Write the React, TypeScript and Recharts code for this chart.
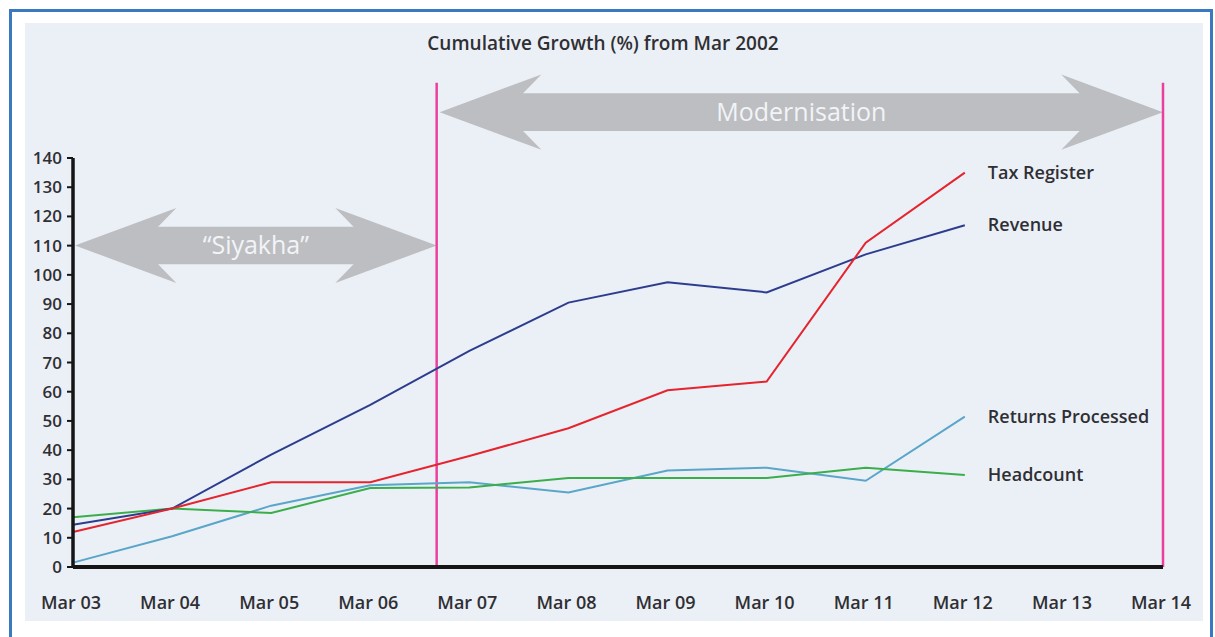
import React from 'react';
import { LineChart, Line, XAxis, YAxis, ReferenceLine, ReferenceArea, LabelList } from 'recharts';

const months = ['Mar 03', 'Mar 04', 'Mar 05', 'Mar 06', 'Mar 07', 'Mar 08', 'Mar 09', 'Mar 10', 'Mar 11', 'Mar 12', 'Mar 13', 'Mar 14'];
const taxRegister = [12, 20, 29, 29, 38, 47.5, 60.5, 63.5, 111, 135];
const revenue = [14.5, 20, 38.5, 55.5, 74, 90.5, 97.5, 94, 107, 117];
const returnsProcessed = [1.5, 10.5, 21, 28, 29, 25.5, 33, 34, 29.5, 51.5];
const headcount = [17, 20, 18.5, 27, 27.2, 30.5, 30.5, 30.5, 34, 31.5];
const yTicks = [0, 10, 20, 30, 40, 50, 60, 70, 80, 90, 100, 110, 120, 130, 140];

// phase markers (x in month index units, y in % units)
const phaseSplit = 3.67;
const phaseEnd = 11;
const siyakhaBand = [97.2, 122.9];
const modernBand = [142.8, 168.6];
const markerTop = 165.8;

const data = months.map((m, i) => ({
  idx: i,
  month: m,
  tax: taxRegister[i] ?? null,
  revenue: revenue[i] ?? null,
  returns: returnsProcessed[i] ?? null,
  headcount: headcount[i] ?? null,
}));

const FONT = '"Open Sans", "Noto Sans", sans-serif';
const TEXT = '#2f2f33';

function DoubleArrow(props: any) {
  const { x, y, width, height, text, fontSize } = props;
  const cy = y + height / 2;
  const head = height * 1.35;
  const notch = head * 0.82;
  const shaft = height / 4;
  const pts = [
    [x, cy],
    [x + head, y],
    [x + notch, cy - shaft],
    [x + width - notch, cy - shaft],
    [x + width - head, y],
    [x + width, cy],
    [x + width - head, y + height],
    [x + width - notch, cy + shaft],
    [x + notch, cy + shaft],
    [x + head, y + height],
  ];
  return (
    <g>
      <polygon points={pts.map((p) => p.join(',')).join(' ')} fill="#bdbec1" />
      <text
        x={x + width / 2}
        y={cy}
        dy="0.35em"
        textAnchor="middle"
        fill="#f2f4f7"
        fontFamily={FONT}
        fontSize={fontSize}
      >
        {text}
      </text>
    </g>
  );
}

function endLabel(name: string) {
  return (props: any) => {
    const { x, y, index } = props;
    if (index !== taxRegister.length - 1) return null;
    return (
      <text x={x + 23} y={y} dy="0.35em" fill={TEXT} fontFamily={FONT} fontSize={18} fontWeight={600}>
        {name}
      </text>
    );
  };
}

function MonthTick({ x, y, payload }: any) {
  return (
    <text x={x - 2} y={y} dy={42} textAnchor="middle" fill={TEXT} fontFamily={FONT} fontSize={18} fontWeight={600}>
      {months[payload.value]}
    </text>
  );
}

export default function App() {
  return (
    <div style={{ position: 'absolute', left: 0, top: 0, width: 1215, height: 637, background: '#fff', overflow: 'hidden' }}>
      <div
        style={{
          position: 'absolute',
          left: 9,
          top: 9,
          width: 1198,
          height: 700,
          border: '3px solid #3a78c2',
        }}
      />
      <div style={{ position: 'absolute', left: 25, top: 23, width: 1178, height: 598, background: '#ebf0f7' }}>
        <div
          style={{
            position: 'absolute',
            left: 378,
            top: 7,
            width: 400,
            textAlign: 'center',
            fontFamily: FONT,
            fontSize: 19,
            fontWeight: 600,
            color: TEXT,
            whiteSpace: 'nowrap',
          }}
        >
          Cumulative Growth (%) from Mar 2002
        </div>
        <LineChart width={1178} height={598} data={data} margin={{ top: 135, right: 40, bottom: 14, left: 8 }}>
          <XAxis
            type="number"
            dataKey="idx"
            domain={[0, 11]}
            ticks={months.map((_, i) => i)}
            interval={0}
            tickLine={false}
            tickSize={0}
            tickMargin={0}
            height={40}
            axisLine={{ stroke: '#151515', strokeWidth: 4 }}
            tick={<MonthTick />}
          />
          <YAxis
            domain={[0, 140]}
            ticks={yTicks}
            interval={0}
            width={40}
            tickSize={6}
            tickMargin={5}
            axisLine={{ stroke: '#151515', strokeWidth: 3.5 }}
            tickLine={{ stroke: '#151515', strokeWidth: 2 }}
            tick={{ fill: TEXT, fontFamily: FONT, fontSize: 17, fontWeight: 600 }}
          />
          <ReferenceArea
            x1={0.02}
            x2={phaseSplit}
            y1={siyakhaBand[0]}
            y2={siyakhaBand[1]}
            ifOverflow="visible"
            shape={(p: any) => <DoubleArrow {...p} text={'\u201cSiyakha\u201d'} fontSize={25} />}
          />
          <ReferenceArea
            x1={phaseSplit + 0.03}
            x2={phaseEnd}
            y1={modernBand[0]}
            y2={modernBand[1]}
            ifOverflow="visible"
            shape={(p: any) => <DoubleArrow {...p} text="Modernisation" fontSize={25} />}
          />
          <ReferenceLine
            segment={[{ x: phaseSplit, y: 0 }, { x: phaseSplit, y: markerTop }]}
            stroke="#ec3f9c"
            strokeWidth={2.5}
            ifOverflow="visible"
          />
          <ReferenceLine
            segment={[{ x: phaseEnd, y: 0 }, { x: phaseEnd, y: markerTop }]}
            stroke="#ec3f9c"
            strokeWidth={2.5}
            ifOverflow="visible"
          />
          <Line type="linear" dataKey="returns" stroke="#5aa6c9" strokeWidth={2} dot={false} isAnimationActive={false}>
            <LabelList dataKey="returns" content={endLabel('Returns Processed')} />
          </Line>
          <Line type="linear" dataKey="headcount" stroke="#3aae4a" strokeWidth={2} dot={false} isAnimationActive={false}>
            <LabelList dataKey="headcount" content={endLabel('Headcount')} />
          </Line>
          <Line type="linear" dataKey="revenue" stroke="#2d3d8e" strokeWidth={2} dot={false} isAnimationActive={false}>
            <LabelList dataKey="revenue" content={endLabel('Revenue')} />
          </Line>
          <Line type="linear" dataKey="tax" stroke="#e5242e" strokeWidth={2} dot={false} isAnimationActive={false}>
            <LabelList dataKey="tax" content={endLabel('Tax Register')} />
          </Line>
        </LineChart>
      </div>
    </div>
  );
}
